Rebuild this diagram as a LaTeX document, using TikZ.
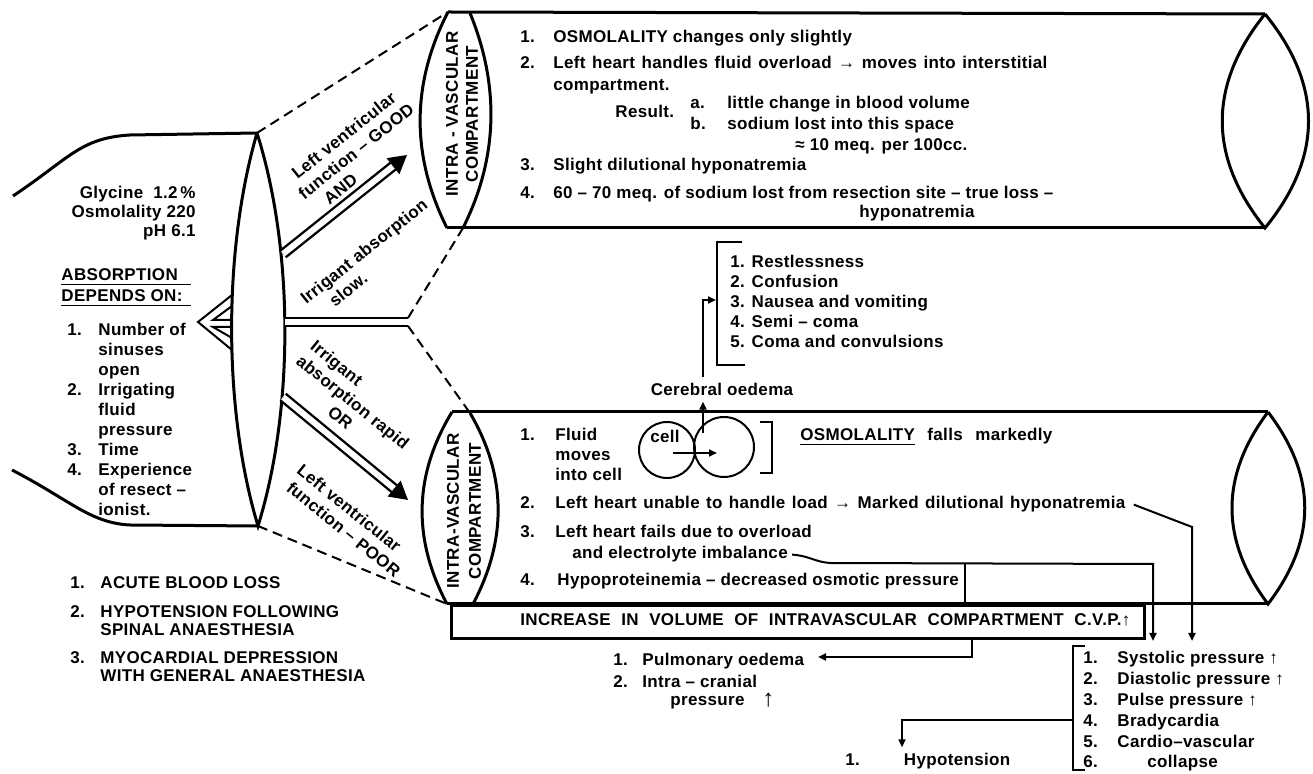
\documentclass[tikz,border=0pt]{standalone}
\usepackage{fontspec}
\setmainfont{Liberation Sans}[LetterSpace=2]
\usetikzlibrary{arrows.meta}
\tikzset{
  txt/.style={font=\fontsize{8.5}{10}\selectfont\bfseries, inner sep=0pt, anchor=base west},
  rtxt/.style={font=\fontsize{8.5}{10}\selectfont\bfseries, inner sep=0pt, anchor=center, align=center},
  outline/.style={line width=1.5pt},
  conn/.style={line width=1pt},
  guide/.style={line width=1pt, dash pattern=on 5pt off 3pt},
  tube/.style={line width=1.2pt, double, double distance=3pt},
  tip/.style={-{Triangle[length=4pt,width=3.5pt]}},
  bigtip/.style={-{Triangle[length=9pt,width=10pt]}},
}

\begin{document}
\begin{tikzpicture}[x=0.5pt,y=-0.5pt]
		%%%%% START %%%%%
		\useasboundingbox (0,0) rectangle (1313,774);
		
		% sac on the left
		\coordinate (sacT) at (257,133);
		\coordinate (sacB) at (258,526);
		\draw[outline] (13,196) .. controls (70,158) and (80,138) .. (130,135) -- (sacT);
		\draw[outline] (12,470) .. controls (70,500) and (90,523) .. (130,525) -- (sacB);
		\draw[outline] (sacT) .. controls (223,250) and (223,410) .. (sacB)
		                      .. controls (294,410) and (294,250) .. (sacT);
		\draw[conn] (232,295) -- (198,322) -- (232,350);
		\draw[conn] (232,306) -- (213,320) -- (232,320);
		\draw[conn] (232,327) -- (213,327) -- (232,338);
		
		% channels
		\coordinate (fork) at (408,322);
		\draw[tube] (285,322) -- (fork);
		\draw[tube, bigtip] (283,254) -- (407,155);
		\draw[tube, bigtip] (283,397) -- (408,500);
		
		% upper compartment
		\coordinate (aT) at (448,12);
		\coordinate (aT2) at (470,13);
		\coordinate (aB) at (447,228);
		\coordinate (aB2) at (463,228);
		\coordinate (zT) at (1265,14);
		\coordinate (zB) at (1265,228);
		\draw[outline] (aT) .. controls (411,84) and (411,156) .. (aB);
		\draw[outline] (aT2) .. controls (499,84) and (499,156) .. (aB2);
		\draw[outline] (aT) -- (zT);
		\draw[outline] (aB) -- (zB);
		\draw[outline] (zT) .. controls (1208,85) and (1208,157) .. (zB)
		                    .. controls (1323,157) and (1323,85) .. (zT);
		
		% lower compartment
		\coordinate (bT) at (452,412);
		\coordinate (bT2) at (470,413);
		\coordinate (bB) at (447,604);
		\coordinate (bB2) at (473,604);
		\coordinate (yT) at (1268,412);
		\coordinate (yB) at (1268,604);
		\draw[outline] (bT) .. controls (413,476) and (413,540) .. (bB);
		\draw[outline] (bT2) .. controls (507,476) and (507,540) .. (bB2);
		\draw[outline] (bT) -- (yT);
		\draw[outline] (bB) -- (yB);
		\draw[outline] (yT) .. controls (1220,476) and (1220,540) .. (yB)
		                    .. controls (1317,540) and (1317,476) .. (yT);
		
		% dashed guides
		\draw[guide] (sacT) -- (aT);
		\draw[guide] ([yshift=2pt]fork) -- (aB2);
		\draw[guide] ([yshift=-2pt]fork) -- (bT2);
		\draw[guide] (sacB) -- (bB);
		
		% left texts
		\node[txt, anchor=base east] (fluid) at (196,199) {\begin{tabular}[t]{@{}r@{}}
			Glycine~~1.2\,\%\\[-0.7pt] Osmolality 220\\[-0.7pt] pH 6.1\hspace{2.5pt}\end{tabular}};
		\node[txt] (absorb) at (61,281) {\begin{tabular}[t]{@{}l@{}}\underline{\makebox[65pt][l]{ABSORPTION}}\\[0.5pt]
			\underline{\makebox[65pt][l]{DEPENDS ON:}}\end{tabular}};
		\node[txt] (deps) at (67,336) {\begin{tabular}[t]{@{}p{15.5pt}@{}l@{}}
			1. & Number of\\ & sinuses\\ & open\\ 2. & Irrigating\\ & fluid\\ & pressure\\
			3. & Time\\ 4. & Experience\\ & of resect --\\ & ionist.\end{tabular}};
		
		\node[txt] (cause1) at (70,589) {\begin{tabular}[t]{@{}p{15pt}@{}l@{}}
			1. & ACUTE BLOOD LOSS\\[4.5pt]
			2. & HYPOTENSION FOLLOWING\\[-1pt] & SPINAL ANAESTHESIA\\[4pt]
			3. & MYOCARDIAL DEPRESSION\\[-1pt] & WITH GENERAL ANAESTHESIA\end{tabular}};
		
		% labels along the channels
		\node[rtxt, rotate=38.6] (good) at (356,151) {Left ventricular\\function -- GOOD\\AND\hspace*{36pt}};
		\node[rtxt, rotate=38.6] (slow) at (370,259) {Irrigant absorption\\slow.\hspace*{36pt}};
		\node[rtxt, rotate=-39] (rapid) at (353,402) {Irrigant\hspace*{37pt}\\absorption rapid\\OR};
		\node[rtxt, rotate=-39] (poor) at (343,516) {Left ventricular\\\hspace*{9pt}function -- POOR};
		
		% upper compartment texts
		\node[rtxt, rotate=90] (ivTop) at (462,114) {INTRA - VASCULAR\\COMPARTMENT};
		\node[txt] (up1n) at (520,43) {1.};
		\node[txt] (up1) at (553,43) {OSMOLALITY changes only slightly};
		\node[txt] (up2n) at (520,69) {2.};
		\node[txt] (up2) at (553,69) {\begin{tabular}[t]{@{}l@{}}\makebox[247pt][s]{Left heart handles fluid overload → moves into interstitial}\\[1pt]
			compartment.\end{tabular}};
		\node[txt] (result) at (615,118) {Result.};
		\node[txt] (res) at (690,109) {\begin{tabular}[t]{@{}p{18.5pt}@{}l@{}}
			a. & little change in blood volume\\[0.5pt] b. & sodium lost into this space\\[0.5pt]
			& \hspace{34pt}≈ 10 meq. per 100cc.\end{tabular}};
		\node[txt] (up3n) at (520,171) {3.};
		\node[txt] (up3) at (553,171) {Slight dilutional hyponatremia};
		\node[txt] (up4n) at (520,199) {4.};
		\node[txt] (up4) at (553,199) {\makebox[250pt][s]{60 -- 70 meq. of sodium lost from resection site -- true loss --}};
		\node[txt, anchor=base east] (up4b) at (975,218) {hyponatremia};
		
		% cerebral signs
		\node[txt] (signs) at (730,268) {\begin{tabular}[t]{@{}l@{}}1. Restlessness\\ 2. Confusion\\
			3. Nausea and vomiting\\ 4. Semi -- coma\\ 5. Coma and convulsions\end{tabular}};
		\draw[conn] (742,242) -- (717,242) -- (717,365) -- (745,365);
		\node[txt, anchor=base] (cereb) at (722,396) {Cerebral oedema};
		\coordinate (riseTop) at (703,300);
		\coordinate (rise) at (703,433);
		\draw[conn, tip] ([yshift=3pt]cereb.north -| rise) -- (riseTop) -- (716,300);
		
		% lower compartment texts
		\node[rtxt, rotate=90] (ivBot) at (464,511) {INTRA-VASCULAR\\[1pt]COMPARTMENT};
		\node[txt] (lo1n) at (520,441) {1.};
		\node[txt] (lo1) at (555,441) {\begin{tabular}[t]{@{}l@{}}Fluid\\ moves\\ into cell\end{tabular}};
		\node[circle, draw, conn, minimum size=28pt, inner sep=0pt] (cellA) at (667,450) {};
		\node[circle, draw, conn, minimum size=30pt, inner sep=0pt] (cellB) at (724,447) {};
		\node[txt, anchor=base] (celltxt) at (665,443) {cell};
		\draw[conn, tip] (673,453) -- (717,453);
		\draw[conn, tip] (rise) -- ([yshift=-2.5pt]cereb.south -| rise);
		\draw[conn] (760,422) -- (772,422) -- (772,473) -- (760,473);
		\node[txt] (osm) at (800,441) {\makebox[126pt][s]{\underline{OSMOLALITY} falls markedly}};
		\node[txt] (lo2n) at (520,509) {2.};
		\node[txt] (lo2) at (555,509) {\makebox[285pt][s]{Left heart unable to handle load → Marked dilutional hyponatremia}};
		\node[txt] (lo3n) at (520,538) {3.};
		\node[txt] (lo3) at (555,538) {Left heart fails due to overload};
		\node[txt] (lo3b) at (572,559) {and electrolyte imbalance};
		\node[txt] (lo4n) at (520,586) {4.};
		\node[txt] (lo4) at (557,586) {Hypoproteinemia -- decreased osmotic pressure};
		
		\node[draw, outline, minimum width=346.5pt, minimum height=16.5pt, inner sep=0pt, anchor=north west] (incr) at (450,604) {};
		\node[txt] (incrtxt) at (520,626) {\makebox[305pt][s]{INCREASE IN VOLUME OF INTRAVASCULAR COMPARTMENT C.V.P.↑}};
		
		% results below
		\node[txt] (pul) at (613,666) {\begin{tabular}[t]{@{}p{14.5pt}@{}l@{}}
			1. & Pulmonary oedema\\[1pt] 2. & Intra -- cranial\\[-1pt] & \hspace{14pt}pressure\end{tabular}};
		\node[txt, font=\fontsize{12}{12}\selectfont] (pulup) at (762,707) {↑};
		
		\node[txt] (pres) at (1083,664) {\begin{tabular}[t]{@{}p{17pt}@{}l@{}}
			1. & Systolic pressure ↑\\[0.4pt] 2. & Diastolic pressure ↑\\[0.4pt] 3. & Pulse pressure ↑\\[0.4pt]
			4. & Bradycardia\\[0.4pt] 5. & Cardio--vascular\\[0.4pt] 6. & \hspace{15pt}collapse\end{tabular}};
		\draw[conn] (1085,646) -- (1073,646) -- (1073,770) -- (1085,770);
		\node[txt] (hypo) at (845,766) {1.\hspace{22pt}Hypotension};
		
		% connectors
		\coordinate (kneeA) at (830,563);
		\coordinate (dropA) at (1153,564);
		\draw[conn] (965,564) -- (965,604);
		\draw[conn, tip] ([xshift=2pt]lo3b.east) .. controls (810,556) and (815,562) .. (kneeA) -- (dropA) -- (1153,641);
		\coordinate (kneeB) at (1192,527);
		\draw[conn, tip] ([xshift=4pt]lo2.east) -- (kneeB) -- (1192,641);
		\coordinate (kneeC) at (972,657);
		\draw[conn, tip] (incr.south -| kneeC) -- (kneeC) -- (818,657);
		\coordinate (kneeD) at (902,720);
		\draw[conn, tip] (1073,720) -- (kneeD) -- ([yshift=3pt]hypo.north -| kneeD);
		
		%%%%% END %%%%%
\end{tikzpicture}
\end{document}
